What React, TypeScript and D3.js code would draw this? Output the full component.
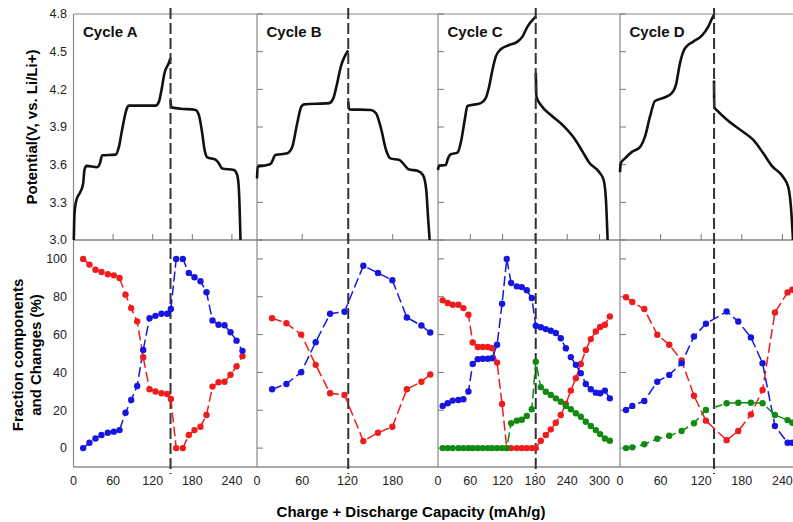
import React, { useEffect, useRef } from 'react';
import * as d3 from 'd3';

// ---- data ----
const cycleNames = ['Cycle A', 'Cycle B', 'Cycle C', 'Cycle D'];
const capacityMax = [278, 240, 338, 269];
const switchCapacity = [147, 121, 181.5, 139];
const capacityTicks = [
  [0, 60, 120, 180, 240],
  [0, 60, 120, 180],
  [0, 60, 120, 180, 240, 300],
  [0, 60, 120, 180, 240],
];
const potentialTicks = [3.0, 3.3, 3.6, 3.9, 4.2, 4.5, 4.8];
const fractionTicks = [0, 20, 40, 60, 80, 100];

// potential curves, [capacity (mAh/g), potential (V)]
const chargeA = [[0.5, 3.0], [1.5, 3.21], [4.5, 3.32], [10.6, 3.385], [14.6, 3.45], [16.7, 3.56], [19.7, 3.59], [35.9, 3.58], [40, 3.61], [43.4, 3.675], [63.6, 3.68], [68.7, 3.74], [73.7, 3.88], [80.3, 4.04], [83.8, 4.07], [124.2, 4.07], [129.3, 4.1], [132.8, 4.18], [137.9, 4.33], [144.4, 4.41], [147, 4.45]];
const dischargeA = [[147, 4.115], [148, 4.057], [162, 4.046], [184.8, 4.036], [189.9, 3.996], [195, 3.85], [198.5, 3.72], [202.5, 3.659], [215.2, 3.64], [220.2, 3.61], [225.3, 3.57], [243, 3.558], [248, 3.518], [250.6, 3.4], [253, 3.0]];
const chargeB = [[0, 3.49], [0.9, 3.584], [13.3, 3.597], [18.6, 3.61], [24.4, 3.677], [40, 3.69], [46.7, 3.74], [53.3, 3.93], [58.6, 4.06], [62.2, 4.08], [95.6, 4.09], [101.3, 4.13], [105.8, 4.235], [111.1, 4.38], [116.9, 4.47], [120.9, 4.51]];
const dischargeB = [[120.9, 4.1], [122.2, 4.04], [151.1, 4.036], [157.8, 4.01], [164.4, 3.89], [171.1, 3.717], [176.9, 3.65], [188.9, 3.637], [195.6, 3.597], [200.9, 3.563], [213.3, 3.55], [220, 3.518], [224.4, 3.4], [226.7, 3.19], [228.9, 3.0]];
const chargeC = [[0, 3.558], [1.9, 3.592], [14.3, 3.597], [18.6, 3.65], [23.6, 3.683], [36, 3.696], [43.4, 3.797], [49.6, 3.956], [54.6, 4.067], [79.4, 4.09], [88.7, 4.13], [94.9, 4.22], [101.1, 4.354], [107.3, 4.46], [116.6, 4.519], [132.1, 4.553], [147.6, 4.58], [156.9, 4.62], [166.2, 4.7], [178.6, 4.766], [181.7, 4.78]];
const dischargeC = [[181.7, 4.33], [182.9, 4.14], [191, 4.075], [209.6, 3.996], [234.4, 3.903], [253, 3.81], [268.5, 3.704], [280.9, 3.616], [299.5, 3.54], [307.6, 3.478], [311.9, 3.32], [315, 3.0]];
const chargeD = [[0, 3.54], [1, 3.61], [7.4, 3.65], [17.2, 3.7], [29.5, 3.74], [36.9, 3.823], [44.3, 3.982], [51.7, 4.107], [66.5, 4.137], [76.3, 4.169], [82.7, 4.235], [88.6, 4.407], [96, 4.527], [108.3, 4.58], [120.6, 4.625], [130.5, 4.7], [136.9, 4.774], [139.4, 4.8]];
const dischargeD = [[138.9, 4.27], [139.4, 4.06], [145.3, 4.022], [157.6, 3.96], [182.3, 3.86], [197, 3.797], [211.8, 3.69], [224.1, 3.592], [241.4, 3.5], [248.8, 3.42], [252.7, 3.26], [255.7, 3.0]];

// fraction components (%)
const capA = [14.6, 24.2, 33.3, 42.4, 52, 61.1, 69.7, 78.8, 87.4, 96.5, 105.6, 115.2, 124.2, 133.3, 142, 147.5, 155.6, 165.6, 174.7, 183.3, 192.4, 201.5, 210.6, 219.7, 228.8, 237.9, 247, 256];
const redA = [100, 97, 94.3, 93.1, 91.9, 91.3, 89.9, 81.1, 74, 67, 48, 31.1, 29.9, 29, 28.6, 26, 0, 0, 6.9, 9.5, 11.3, 17.5, 32.5, 34.8, 35.1, 38.8, 43.2, 48.6];
const blueA = [0, 2.8, 5.1, 6.9, 8.1, 8.7, 9.5, 18.7, 25.4, 32.8, 51.9, 68.7, 69.9, 71, 71, 73.5, 100, 100, 92.6, 90.3, 88.2, 82.4, 67.5, 65.2, 64.9, 61.2, 56.8, 51.4];

const capB = [20, 39, 58.6, 77.8, 96.9, 116, 141, 160.4, 179.5, 198.7, 218, 229.7];
const redB = [68.7, 66, 60, 44, 29, 28.1, 3.7, 8.1, 11.3, 31.1, 35.1, 38.9];
const blueB = [31.1, 33.9, 40.1, 56, 71, 72.1, 96.4, 92.6, 88.7, 69, 64.8, 61.1];

const capC = [8.7, 18, 27.3, 37.9, 47.2, 56.5, 64.5, 73.8, 83.1, 92.4, 100.4, 109.7, 119, 127.7, 135.7, 146.3, 155.6, 164.9, 174.2, 181.6, 190.9, 200.2, 209.5, 218.8, 228, 237.4, 246.7, 256, 265.2, 274.5, 283.8, 293.1, 301.1, 309.9, 319.1];
const redC = [78.1, 76.7, 75.8, 75.8, 74, 70.5, 55.8, 53.4, 53.4, 53.4, 52.8, 45.2, 23.3, 0, 0, 0, 0, 0, 0, 0, 3.9, 6.9, 9.9, 13.4, 17.5, 23.3, 30.4, 36.9, 44.5, 51.9, 57.6, 61.6, 64, 65.2, 69.6];
const blueC = [22.3, 23.7, 25.1, 25.4, 25.8, 29.9, 44.5, 47, 47.2, 47.2, 47.5, 54.6, 76.3, 100, 87.3, 85.5, 85.1, 83.4, 79.3, 64.7, 63.9, 62.9, 62, 60.8, 58.1, 52.8, 48.1, 44, 39.6, 33.9, 31.1, 29.3, 29, 30.4, 26.3];
const greenC = [0, 0, 0, 0, 0, 0, 0, 0, 0, 0, 0, 0, 0, 0, 13.1, 14.5, 15, 17, 20.5, 45.7, 32.2, 29.8, 28.1, 26.3, 24.5, 22.3, 20.5, 18.4, 16.6, 13.9, 11.7, 9.5, 7.4, 5.1, 3.9];

const capD = [8.9, 18.2, 35.9, 55.1, 72.8, 91.1, 109.3, 127, 157.6, 174.8, 193.5, 210.7, 229, 247.7, 254.6];
const redD = [79.7, 77.2, 73.5, 59.9, 54.6, 46.3, 27.7, 14.5, 4.2, 9, 17.8, 30.7, 71.7, 82.3, 83.7];
const blueD = [20.1, 22.3, 24.9, 35.1, 38.7, 44.9, 59, 65.7, 72.2, 66.9, 58.5, 44.9, 11.7, 2.8, 2.8];
const greenD = [0, 0.4, 2, 4.9, 6.5, 9, 13.1, 20.1, 23.7, 24, 24, 23.7, 17.5, 14.8, 13.4];

const potentialCurves = [[chargeA, dischargeA], [chargeB, dischargeB], [chargeC, dischargeC], [chargeD, dischargeD]];
const fractionCaps = [capA, capB, capC, capD];
const fractionSeries = [
  [redA, blueA],
  [redB, blueB],
  [redC, blueC, greenC],
  [redD, blueD, greenD],
];

// ---- layout ----
const W = 793, H = 522;
const edges = [73.5, 257, 438, 620, 802];
const top1 = 14, mid = 240, bot = 467;
const seriesColors = ['#ee1c1c', '#1616e0', '#108a10'];
const font = '"Liberation Sans", Arial, sans-serif';

export default function App() {
  const ref = useRef<SVGSVGElement>(null);

  useEffect(() => {
    const svg = d3.select(ref.current);
    svg.selectAll('*').remove();

    const yPot = d3.scaleLinear().domain([3.0, 4.8]).range([mid, top1]);
    const yFrac = d3.scaleLinear().domain([-10, 110]).range([bot, mid]);

    const frame = svg.append('g');
    // panel borders
    frame.append('line').attr('x1', edges[0]).attr('x2', W).attr('y1', top1).attr('y2', top1)
      .attr('stroke', '#888').attr('stroke-width', 1.2);
    frame.append('line').attr('x1', edges[0]).attr('x2', W).attr('y1', mid).attr('y2', mid)
      .attr('stroke', '#444').attr('stroke-width', 1.2);
    frame.append('line').attr('x1', edges[0]).attr('x2', W).attr('y1', bot).attr('y2', bot)
      .attr('stroke', '#555').attr('stroke-width', 1.2);
    edges.slice(0, 4).forEach(e => {
      frame.append('line').attr('x1', e).attr('x2', e).attr('y1', top1).attr('y2', bot)
        .attr('stroke', '#888').attr('stroke-width', 1.2);
    });

    cycleNames.forEach((name, i) => {
      const x = d3.scaleLinear().domain([0, capacityMax[i]]).range([edges[i], edges[i + 1]]);
      const g = svg.append('g');

      // ticks: x ticks up from the middle line, y ticks into panel for B-D
      capacityTicks[i].filter(t => t > 0).forEach(t => {
        g.append('line').attr('x1', x(t)).attr('x2', x(t)).attr('y1', mid).attr('y2', mid - 6)
          .attr('stroke', '#777').attr('stroke-width', 1);
      });
      if (i > 0) {
        potentialTicks.forEach(t => {
          g.append('line').attr('x1', edges[i]).attr('x2', edges[i] + 6).attr('y1', yPot(t)).attr('y2', yPot(t))
            .attr('stroke', '#777').attr('stroke-width', 1);
        });
        fractionTicks.forEach(t => {
          g.append('line').attr('x1', edges[i]).attr('x2', edges[i] + 6).attr('y1', yFrac(t)).attr('y2', yFrac(t))
            .attr('stroke', '#777').attr('stroke-width', 1);
        });
      }

      // x tick labels
      g.selectAll('.xlab').data(capacityTicks[i]).join('text')
        .attr('x', d => x(d)).attr('y', 485)
        .attr('text-anchor', 'middle').attr('font-family', font).attr('font-size', 12.5).attr('fill', '#222')
        .text(d => d);

      // cycle name
      g.append('text').attr('x', edges[i] + 9.5).attr('y', 36.5)
        .attr('font-family', font).attr('font-size', 15).attr('font-weight', 'bold').attr('fill', '#111')
        .text(name);

      // potential curves
      const line = d3.line<number[]>().x(d => x(d[0])).y(d => yPot(d[1])).curve(d3.curveMonotoneX);
      potentialCurves[i].forEach(c => {
        g.append('path').attr('d', line(c as any)).attr('fill', 'none')
          .attr('stroke', '#111').attr('stroke-width', 2.6).attr('stroke-linejoin', 'round');
      });

      // dashed switch line
      g.append('line').attr('x1', x(switchCapacity[i])).attr('x2', x(switchCapacity[i]))
        .attr('y1', 8).attr('y2', 474)
        .attr('stroke', '#333').attr('stroke-width', 2).attr('stroke-dasharray', '11,4');

      // fraction series
      const caps = fractionCaps[i];
      fractionSeries[i].forEach((vals, k) => {
        const pts = caps.map((c, j) => [c, vals[j]]);
        const fl = d3.line<number[]>().x(d => x(d[0])).y(d => yFrac(d[1]));
        g.append('path').attr('d', fl(pts)).attr('fill', 'none')
          .attr('stroke', seriesColors[k]).attr('stroke-width', 1.5).attr('stroke-dasharray', '10,4');
      });
      fractionSeries[i].forEach((vals, k) => {
        g.selectAll('.pt' + k).data(caps).join('circle')
          .attr('cx', d => x(d)).attr('cy', (d, j) => yFrac(vals[j]))
          .attr('r', 3.2).attr('fill', seriesColors[k]);
      });
    });

    // y tick labels on the first panel
    svg.selectAll('.ypot').data(potentialTicks).join('text')
      .attr('x', 67).attr('y', d => yPot(d)).attr('dy', '0.35em')
      .attr('text-anchor', 'end').attr('font-family', font).attr('font-size', 12.5).attr('fill', '#222')
      .text(d => d.toFixed(1));
    svg.selectAll('.yfrac').data(fractionTicks).join('text')
      .attr('x', 67).attr('y', d => yFrac(d)).attr('dy', '0.35em')
      .attr('text-anchor', 'end').attr('font-family', font).attr('font-size', 12.5).attr('fill', '#222')
      .text(d => d);

    // axis titles
    svg.append('text').attr('transform', 'translate(37,127) rotate(-90)')
      .attr('text-anchor', 'middle').attr('font-family', font).attr('font-size', 15).attr('font-weight', 'bold')
      .text('Potential(V, vs. Li/Li+)');
    svg.append('text').attr('transform', 'translate(23,355) rotate(-90)')
      .attr('text-anchor', 'middle').attr('font-family', font).attr('font-size', 15).attr('font-weight', 'bold')
      .text('Fraction components');
    svg.append('text').attr('transform', 'translate(41,355) rotate(-90)')
      .attr('text-anchor', 'middle').attr('font-family', font).attr('font-size', 15).attr('font-weight', 'bold')
      .text('and Changes (%)');
    svg.append('text').attr('x', 411).attr('y', 517)
      .attr('text-anchor', 'middle').attr('font-family', font).attr('font-size', 15).attr('font-weight', 'bold')
      .text('Charge + Discharge Capacity (mAh/g)');
  }, []);

  return (
    <svg ref={ref} width={W} height={H}
      style={{ position: 'absolute', left: 0, top: 0, background: '#fff' }} />
  );
}
